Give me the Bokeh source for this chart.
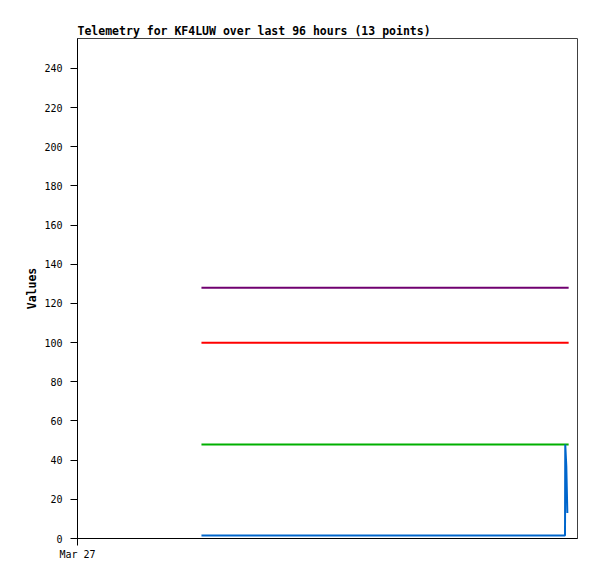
from bokeh.plotting import figure
from bokeh.models import FixedTicker, Range1d
from bokeh.embed import file_html
from bokeh.resources import INLINE

# Data (hours since Mar 27 00:00)
title_text = "Telemetry for KF4LUW over last 96 hours (13 points)"
x_tick_labels = {0: "Mar 27"}
y_ticks = [0, 20, 40, 60, 80, 100, 120, 140, 160, 180, 200, 220, 240]

t_const = [23.8, 94.3]
purple_vals = [128, 128]
red_vals = [100, 100]
green_vals = [48, 48]

t_blue = [23.8, 31.5, 39.3, 47.0, 54.8, 62.5, 70.3, 78.0, 85.8, 93.6, 93.65, 93.85, 94.05]
blue_vals = [1.5, 1.5, 1.5, 1.5, 1.5, 1.5, 1.5, 1.5, 1.5, 1.5, 48, 37, 13]

FONT = "DejaVu Sans Mono"

p = figure(
    frame_width=500, frame_height=500,
    min_border_left=77, min_border_right=12, min_border_top=38, min_border_bottom=33,
    x_range=Range1d(0, 96), y_range=Range1d(0, 255.3),
    output_backend="svg", toolbar_location=None,
    title=title_text,
)
p.title.text_font = FONT
p.title.text_font_size = "11.5px"
p.title.text_font_style = "bold"
p.title.align = "left"
p.title.text_color = "black"
p.title.standoff = 2

p.outline_line_color = "#404040"
p.outline_line_width = 1
p.xgrid.visible = False
p.ygrid.visible = False
p.background_fill_color = "white"
p.border_fill_color = "white"

p.line(t_const, purple_vals, line_color="#700070", line_width=2)
p.line(t_const, red_vals, line_color="#ff0000", line_width=2)
p.line(t_const, green_vals, line_color="#00b000", line_width=2)
p.line(t_blue, blue_vals, line_color="#0066cc", line_width=2)

for ax in (p.xaxis[0], p.yaxis[0]):
    ax.axis_line_color = "black"
    ax.major_tick_line_color = "black"
    ax.major_tick_in = 0
    ax.major_tick_out = 7
    ax.minor_tick_line_color = None
    ax.major_label_text_font = FONT
    ax.major_label_text_font_size = "10px"
    ax.major_label_text_color = "black"

p.xaxis[0].ticker = FixedTicker(ticks=[0])
p.xaxis[0].major_label_overrides = x_tick_labels
p.xaxis[0].major_label_standoff = 3

p.yaxis[0].ticker = FixedTicker(ticks=y_ticks)
p.yaxis[0].major_label_standoff = 8
p.yaxis[0].axis_label = "Values"
p.yaxis[0].axis_label_text_font = FONT
p.yaxis[0].axis_label_text_font_size = "11.5px"
p.yaxis[0].axis_label_text_font_style = "bold"
p.yaxis[0].axis_label_text_color = "black"
p.yaxis[0].axis_label_standoff = 2

open("out.html", "w").write(file_html(p, INLINE))
